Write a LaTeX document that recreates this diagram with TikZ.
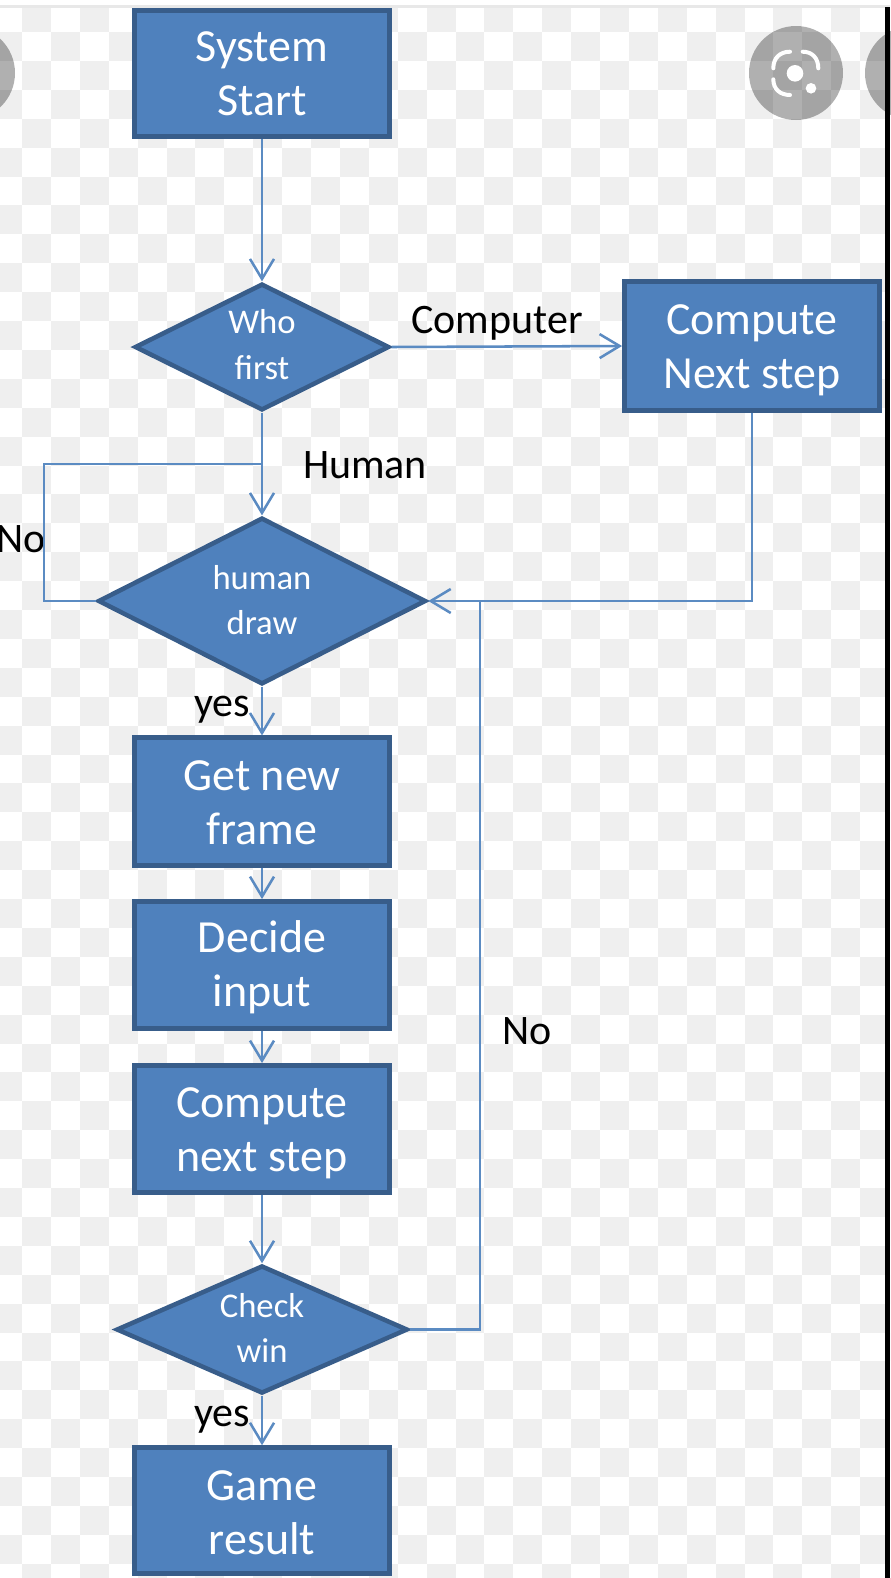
\documentclass[tikz,border=0pt]{standalone}
\usepackage{fontspec}
\setmainfont{Carlito}
\usetikzlibrary{shapes.geometric,arrows.meta}
\definecolor{boxfill}{HTML}{4F81BD}
\definecolor{boxedge}{HTML}{385D8A}
\definecolor{linkcol}{HTML}{5B8BC2}
\definecolor{checkgray}{HTML}{EFEFEF}
\newcommand{\toppad}[1]{\rule{0pt}{#1}}
\newcommand{\botpad}[1]{\rule[-#1]{0pt}{0pt}}
\tikzset{
  x=0.75pt,y=-0.75pt,
  boxnode/.style={rectangle,draw=boxedge,fill=boxfill,line width=3.4pt,text=white,align=center,inner sep=0pt,
    minimum width=191.5pt,font=\fontsize{34.5pt}{40.5pt}\selectfont},
  decision/.style={diamond,draw=boxedge,fill=boxfill,line width=3.4pt,text=white,align=center,inner sep=0pt,
    font=\fontsize{26pt}{34pt}\selectfont},
  lbl/.style={text=black,inner sep=0pt,font=\fontsize{31.5pt}{36pt}\selectfont},
  link/.style={draw=linkcol,line width=1.9pt},
  arrowlink/.style={link,-{Straight Barb[length=15pt,width=18pt,line width=1.9pt]}},
  lensdisc/.style={fill=black,fill opacity=0.31,draw=none},
  lensline/.style={draw=white,line width=3pt,line cap=round}
}
\begin{document}
\begin{tikzpicture}
\useasboundingbox (0,0) rectangle (890,1578);
% page and checkered backdrop
\fill[white] (0,0) rectangle (890,1578);
\begin{scope}
\clip (0,8) rectangle (890,1578);
\foreach \r in {0,...,54}{
  \foreach \c in {-1,...,30}{
    \pgfmathparse{int(mod(\r+\c+2,2))}
    \ifnum\pgfmathresult=0
      \fill[checkgray] ({22+28.9*\c},{3.1+28.9*\r}) rectangle ({22+28.9*(\c+1)},{3.1+28.9*(\r+1)});
    \fi
  }
}
\end{scope}
\fill[gray!18] (0,5) rectangle (890,8);
% lens buttons
\fill[lensdisc] (796,73) circle[radius=47];
\fill[lensdisc] (912,73) circle[radius=47];
\fill[lensdisc] (-32,73) circle[radius=47];
\draw[lensline] (773.3,68.3) .. controls (773.3,58) and (780,51.7) .. (790,51.7);
\draw[lensline] (802.7,51.7) .. controls (812,51.7) and (818.3,58) .. (818.3,68.3);
\draw[lensline] (773.3,79.3) .. controls (773.3,89) and (780,95) .. (790,95);
\fill[white] (795,73.3) circle[radius=8.3];
\fill[white] (811,88.3) circle[radius=5.3];
\fill[black] (885,7) rectangle (890,1578);
% nodes
\node[boxnode,minimum height=94.5pt] (start) at (262,73.5) {System\\Start};
\node[decision,minimum width=191pt,minimum height=95pt,shape aspect=2] (who) at (262,347) {Who\\first\botpad{4pt}};
\node[boxnode,minimum height=97pt] (comp1) at (752,346) {\toppad{29pt}Compute\\Next step};
\node[decision,minimum width=246pt,minimum height=125pt,shape aspect=2] (hd) at (262,601) {human\\draw\botpad{2pt}};
\node[boxnode,minimum height=95.7pt] (getf) at (262,801.5) {\toppad{23.5pt}Get new\\frame};
\node[boxnode,minimum height=95.5pt] (decide) at (262,965) {\toppad{27.5pt}Decide\\input};
\node[boxnode,minimum height=95.5pt] (comp2) at (262,1129) {\toppad{28.5pt}Compute\\next step};
\node[decision,minimum width=218.5pt,minimum height=96pt,shape aspect=2.27] (cw) at (262,1329.5) {Check\\win\botpad{2.5pt}};
\node[boxnode,minimum height=94.5pt] (game) at (262,1510.5) {\toppad{25pt}Game\\result};
% labels
\node[lbl] (lcomputer) at (497,323) {Computer};
\node[lbl] (lhuman) at (365,465) {Human};
\node[lbl] (lnoa) at (21,539) {No};
\node[lbl] (lyesa) at (222,710) {yes};
\node[lbl] (lnob) at (527,1031) {No};
\node[lbl] (lyesb) at (222,1420) {yes};
% bend points
\coordinate (jright) at (480,601);
\coordinate (ltop) at (44,464);
\coordinate (lbot) at (44,601);
\coordinate (ljoin) at (262,464);
% connectors
\draw[arrowlink] (start.south) -- (who.north);
\draw[arrowlink] (who.east) -- (comp1.west);
\draw[arrowlink] (who.south) -- (hd.north);
\draw[link] (hd.west) -- (lbot) -- (ltop) -- (ljoin);
\draw[arrowlink] (comp1.south) |- (hd.east);
\draw[link] (cw.east) -| (jright);
\draw[arrowlink] (hd.south) -- (getf.north);
\draw[arrowlink] (getf.south) -- (decide.north);
\draw[arrowlink] (decide.south) -- (comp2.north);
\draw[arrowlink] (comp2.south) -- (cw.north);
\draw[arrowlink] (cw.south) -- (game.north);
\end{tikzpicture}
\end{document}
